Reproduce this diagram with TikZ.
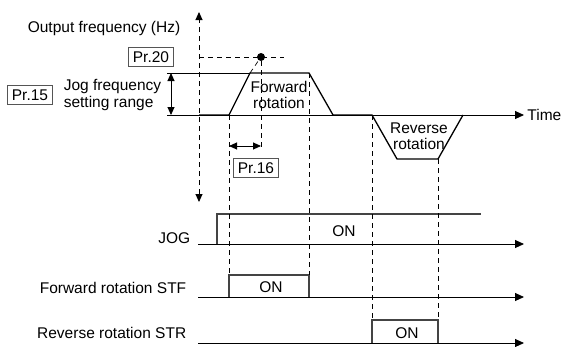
\documentclass[tikz,border=0pt]{standalone}
\usepackage{fontspec}
\setmainfont{Liberation Sans}
\usepackage{tikz}
\usetikzlibrary{positioning, arrows.meta}
\definecolor{Pulse}{HTML}{444444}
\definecolor{BoxLine}{HTML}{555555}

\tikzset{
  tip/.style={-{Triangle[length=9pt,width=8pt]}},
  dbl/.style={{Triangle[length=8pt,width=7pt]}-{Triangle[length=8pt,width=7pt]}},
  guide/.style={dash pattern=on 5pt off 4pt, line width=0.9pt},
  prbox/.style={draw=BoxLine, line width=0.9pt, inner xsep=4pt, minimum height=19pt},
  profile/.style={line width=1.3pt},
  pulse/.style={draw=Pulse, line width=1.4pt},
}

\begin{document}
\begin{tikzpicture}[x=1pt, y=-1pt, line width=0.9pt,
                    font=\fontsize{15.5}{16.5}\selectfont]
  \useasboundingbox (0,0) rectangle (564,346);

  % frequency axis
  \coordinate (ftop) at (199,12);
  \coordinate (fbot) at (199,202);
  \draw[guide, dbl] (fbot) -- (ftop);
  \node[anchor=west] (fname) at (24,28) {Output frequency (Hz)};

  % time axis and output frequency
  \coordinate (o) at (199,115);
  \coordinate (t0) at (167,115);
  \node[anchor=west, inner sep=3pt] (time) at (524,115) {Time};
  \draw[tip] (t0) -- (time.west);
  \coordinate (p1) at (229,115);
  \coordinate (p2) at (250,73);
  \coordinate (p3) at (309,73);
  \coordinate (p4) at (333,115);
  \coordinate (p5) at (372,115);
  \coordinate (p6) at (397,159);
  \coordinate (p7) at (438,159);
  \coordinate (p8) at (463,115);
  \draw[profile] (o) -- (p1) -- (p2) -- (p3) -- (p4) -- (p5) -- (p6) -- (p7) -- (p8);
  \node[align=center] (fwd) at (279,95) {Forward\\rotation};
  \node[align=center] (rev) at (419,136) {Reverse\\rotation};

  % jog frequency setting range
  \coordinate (r0) at (167,73);
  \coordinate (ra) at (171,73);
  \coordinate (rb) at (171,115);
  \draw (r0) -- (p2);
  \draw[dbl] (ra) -- (rb);
  \node[prbox] (pr15) at (30,95) {Pr.15};
  \node[anchor=west, align=left] (range) at (60,95) {Jog frequency\\setting range};

  % Pr.20 level
  \node[circle, fill, inner sep=0pt, minimum size=8pt] (dot) at (261,57) {};
  \coordinate (l20a) at (199,57);
  \coordinate (l20b) at (284,57);
  \draw[guide] (l20a) -- (l20b);
  \draw[guide, line width=0.7pt] (p2) -- (dot);
  \node[prbox] (pr20) at (151,57) {Pr.20};

  % Pr.16 acceleration time
  \coordinate (a16l) at (229,146);
  \coordinate (a16r) at (261,146);
  \coordinate (d16) at (261,150);
  \draw[dbl] (a16l) -- (a16r);
  \draw[guide] (dot) -- (d16);
  \node[prbox] (pr16) at (256,168) {Pr.16};

  % JOG signal
  \coordinate (j0) at (198,244);
  \coordinate (j1) at (217,244);
  \coordinate (j2) at (217,214);
  \coordinate (j3) at (481,214);
  \coordinate (jend) at (524,244);
  \draw[tip] (j0) -- (jend);
  \draw[pulse] (j1) -- (j2) -- (j3);
  \node[anchor=base east] (jog) at (194,243) {JOG};
  \node (jogon) at (344,231) {ON};

  % forward rotation STF
  \coordinate (f0) at (198,297);
  \coordinate (f1) at (229,297);
  \coordinate (f2) at (229,275);
  \coordinate (f3) at (309,275);
  \coordinate (f4) at (309,297);
  \coordinate (fend) at (524,297);
  \draw[tip] (f0) -- (fend);
  \draw[pulse] (f1) -- (f2) -- (f3) -- (f4);
  \node[anchor=base east] (stf) at (190,293) {Forward rotation STF};
  \node (stfon) at (271,287) {ON};

  % reverse rotation STR
  \coordinate (s0) at (198,343);
  \coordinate (s1) at (372,343);
  \coordinate (s2) at (372,320);
  \coordinate (s3) at (438,320);
  \coordinate (s4) at (438,343);
  \coordinate (send) at (524,343);
  \draw[tip] (s0) -- (send);
  \draw[pulse] (s1) -- (s2) -- (s3) -- (s4);
  \node[anchor=base east] (str) at (190,338.5) {Reverse rotation STR};
  \node (stron) at (407,333) {ON};

  % timing guides
  \draw[guide] (p1) -- (f2);
  \draw[guide] (p3) -- (f3);
  \draw[guide] (p5) -- (s2);
  \draw[guide] (p7) -- (s3);
\end{tikzpicture}
\end{document}
